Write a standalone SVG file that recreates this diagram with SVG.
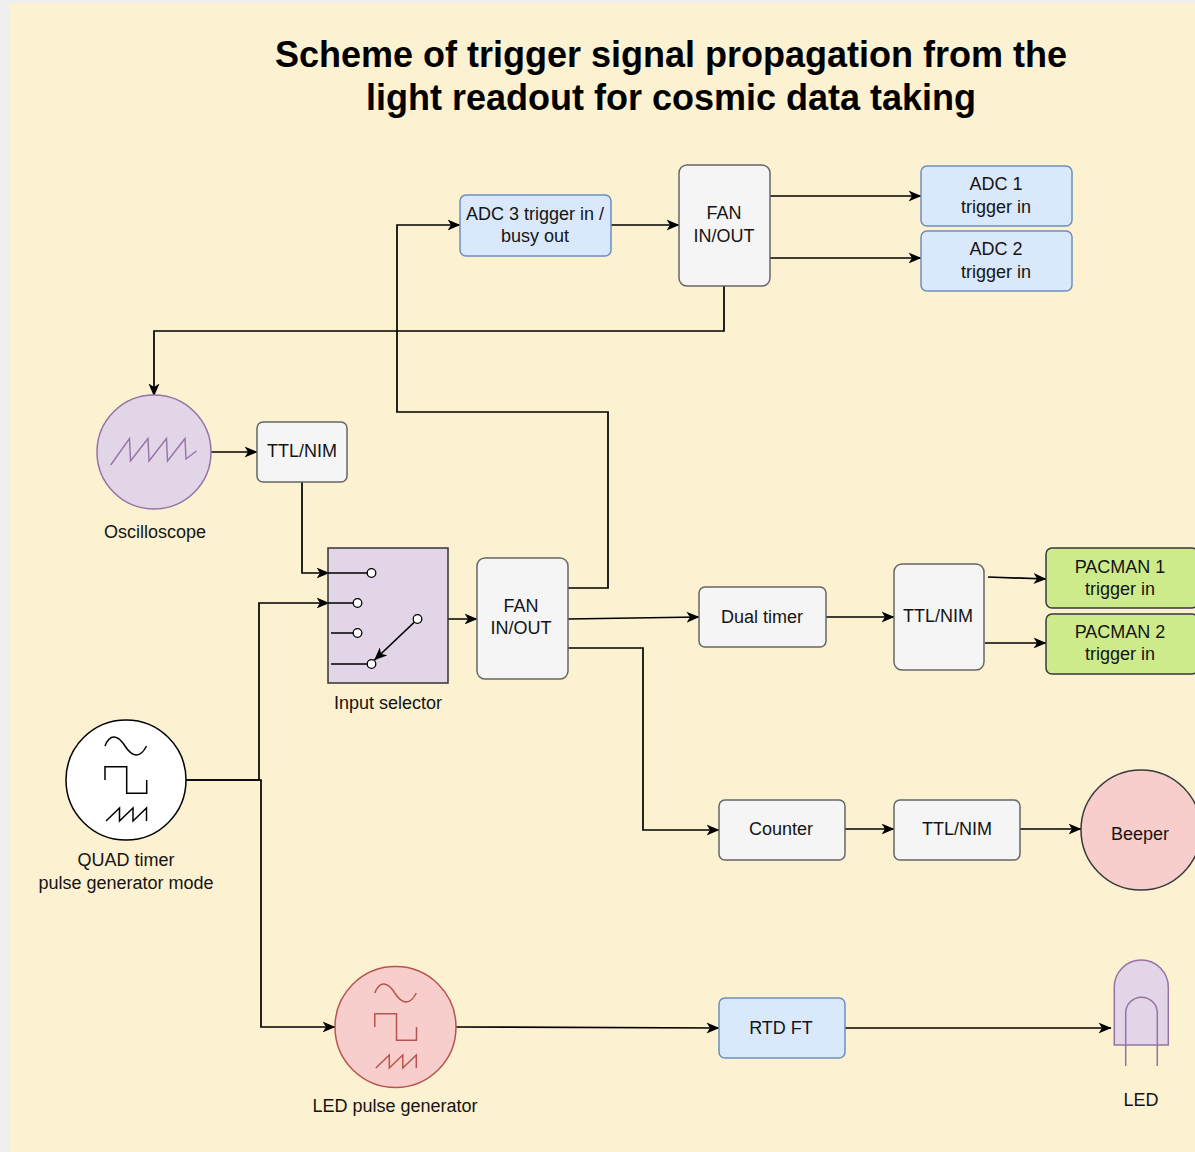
<svg xmlns="http://www.w3.org/2000/svg" width="1195" height="1152" viewBox="0 0 1195 1152">
<defs>
<marker id="arr" markerUnits="userSpaceOnUse" markerWidth="14" markerHeight="12" refX="12.5" refY="6" orient="auto">
<path d="M0,0.5 L13,6 L0,11.5 L3.5,6 Z" fill="#000"/>
</marker>
<style>
.t{font-family:"Liberation Sans",Arial,Helvetica,sans-serif;font-size:18px;fill:#141414;text-anchor:middle}
.title{font-family:"Liberation Sans",Arial,Helvetica,sans-serif;font-size:36px;font-weight:bold;fill:#000;text-anchor:middle}
.gray{fill:#f5f5f5;stroke:#666;stroke-width:1.5}
.blue{fill:#dae8fc;stroke:#6c8ebf;stroke-width:1.5}
.green{fill:#cdeb8b;stroke:#36393d;stroke-width:1.5}
.c{fill:none;stroke:#000;stroke-width:1.7}
.ca{fill:none;stroke:#000;stroke-width:1.7;marker-end:url(#arr)}
.pin{fill:#fff;stroke:#000;stroke-width:1.3}
</style>
<g id="waveIcon">
<path d="M105,746 C110,733 118,735 125,746 C132,757 140,759 146.5,746" fill="none"/>
<path d="M105,780 V766.7 H126.7 V793.3 H146.7 V780" fill="none"/>
<path d="M106,821 L119.5,808 V821 L133,808 V821 L146.5,808 V821" fill="none"/>
</g>
</defs>
<rect x="0" y="0" width="1195" height="1152" fill="#efefef"/>
<rect x="10" y="3" width="1185" height="1149" fill="#fcf1d0"/>
<g id="title">
<text class="title" x="671" y="67">Scheme of trigger signal propagation from the</text>
<text class="title" x="671" y="110">light readout for cosmic data taking</text>
</g>
<g id="connectors">
<path class="ca" d="M611,225 H679"/>
<path class="ca" d="M770,196 H921"/>
<path class="ca" d="M770,258 H921"/>
<path class="ca" d="M724,286 V331 H154 V396"/>
<path class="ca" d="M568,588 H608 V412 H397 V225 H460"/>
<path class="ca" d="M211,452 H257"/>
<path class="ca" d="M302,482 V573 H329"/>
<path class="ca" d="M186,780 H259 V603 H329"/>
<path class="ca" d="M186,780 H261 V1027 H335"/>
<path class="ca" d="M422,619 H477"/>
<path class="ca" d="M568,619 L699,617"/>
<path class="ca" d="M568,648 H643 V830 H719"/>
<path class="ca" d="M826,617 H894"/>
<path class="ca" d="M988,577 L1046,579"/>
<path class="ca" d="M985,643 H1046"/>
<path class="ca" d="M845,829 H894"/>
<path class="ca" d="M1020,829 H1081"/>
<path class="ca" d="M456,1027 L719,1028"/>
<path class="ca" d="M845,1028 H1111"/>
</g>
<g id="adc3">
<rect class="blue" x="460" y="195" width="151" height="61" rx="6"/>
<text class="t" x="535" y="220">ADC 3 trigger in /</text>
<text class="t" x="535" y="242">busy out</text>
</g>
<g id="fan-top">
<rect class="gray" x="679" y="165" width="91" height="121" rx="8"/>
<text class="t" x="724" y="219">FAN</text>
<text class="t" x="724" y="242">IN/OUT</text>
</g>
<g id="adc1">
<rect class="blue" x="921" y="166" width="151" height="60" rx="6"/>
<text class="t" x="996" y="190">ADC 1</text>
<text class="t" x="996" y="213">trigger in</text>
</g>
<g id="adc2">
<rect class="blue" x="921" y="231" width="151" height="60" rx="6"/>
<text class="t" x="996" y="255">ADC 2</text>
<text class="t" x="996" y="278">trigger in</text>
</g>
<g id="oscilloscope">
<circle cx="154" cy="452" r="57" fill="#e1d5e7" stroke="#9673a6" stroke-width="1.5"/>
<path d="M110.7,465 L129.5,438.5 L130.5,461 L148,438.5 L149,461 L166.5,438.5 L167.5,461 L185,438.5 L186,459 L196.5,451" fill="none" stroke="#9673a6" stroke-width="1.4"/>
<text class="t" x="155" y="538">Oscilloscope</text>
</g>
<g id="ttlnim-1">
<rect class="gray" x="257" y="422" width="90" height="60" rx="6"/>
<text class="t" x="302" y="457">TTL/NIM</text>
</g>
<g id="input-selector">
<rect x="328" y="548" width="120" height="135" fill="#e1d5e7" stroke="#333" stroke-width="1.5"/>
<path class="c" d="M328,573 H367 M328,603 H353 M331,633 H353 M331,664 H367"/>
<path class="ca" d="M414.5,622 L374.5,660"/>
<circle class="pin" cx="371.5" cy="573" r="4.3"/>
<circle class="pin" cx="357.5" cy="603" r="4.3"/>
<circle class="pin" cx="357.5" cy="633" r="4.3"/>
<circle class="pin" cx="371.5" cy="664" r="4.3"/>
<circle class="pin" cx="417.5" cy="619" r="4.3"/>
<text class="t" x="388" y="709">Input selector</text>
</g>
<g id="fan-mid">
<rect class="gray" x="477" y="558" width="91" height="121" rx="8"/>
<text class="t" x="521" y="612">FAN</text>
<text class="t" x="521" y="634">IN/OUT</text>
</g>
<g id="dual-timer">
<rect class="gray" x="699" y="587" width="127" height="60" rx="6"/>
<text class="t" x="762" y="623">Dual timer</text>
</g>
<g id="ttlnim-2">
<rect class="gray" x="894" y="564" width="90" height="106" rx="8"/>
<text class="t" x="938" y="622">TTL/NIM</text>
</g>
<g id="pacman1">
<rect class="green" x="1046" y="548" width="152" height="60" rx="6"/>
<text class="t" x="1120" y="573">PACMAN 1</text>
<text class="t" x="1120" y="595">trigger in</text>
</g>
<g id="pacman2">
<rect class="green" x="1046" y="614" width="152" height="60" rx="6"/>
<text class="t" x="1120" y="638">PACMAN 2</text>
<text class="t" x="1120" y="660">trigger in</text>
</g>
<g id="counter">
<rect class="gray" x="719" y="800" width="126" height="60" rx="6"/>
<text class="t" x="781" y="835">Counter</text>
</g>
<g id="ttlnim-3">
<rect class="gray" x="894" y="800" width="126" height="60" rx="6"/>
<text class="t" x="957" y="835">TTL/NIM</text>
</g>
<g id="beeper">
<circle cx="1141" cy="830" r="60" fill="#f8cecc" stroke="#36393d" stroke-width="1.5"/>
<text class="t" x="1140" y="840">Beeper</text>
</g>
<g id="quad-timer">
<circle cx="126" cy="780" r="60" fill="#fff" stroke="#000" stroke-width="1.5"/>
<use href="#waveIcon" stroke="#000" stroke-width="1.5"/>
<text class="t" x="126" y="866">QUAD timer</text>
<text class="t" x="126" y="889">pulse generator mode</text>
</g>
<g id="led-pulse-generator">
<circle cx="395.5" cy="1027" r="60.5" fill="#f8cecc" stroke="#b85450" stroke-width="1.5"/>
<use href="#waveIcon" transform="translate(269.8,247)" stroke="#b85450" stroke-width="1.5"/>
<text class="t" x="395" y="1112">LED pulse generator</text>
</g>
<g id="rtd-ft">
<rect class="blue" x="719" y="998" width="126" height="60" rx="6"/>
<text class="t" x="781" y="1034">RTD FT</text>
</g>
<g id="led">
<path d="M1114.3,1045 V987 A27,27 0 0 1 1168.3,987 V1045 Z" fill="#e1d5e7" stroke="#9673a6" stroke-width="1.5"/>
<path d="M1125.7,1066 V1013 A15.8,15.8 0 0 1 1157.3,1013 V1066" fill="none" stroke="#9673a6" stroke-width="1.5"/>
<text class="t" x="1141" y="1106">LED</text>
</g>
</svg>
